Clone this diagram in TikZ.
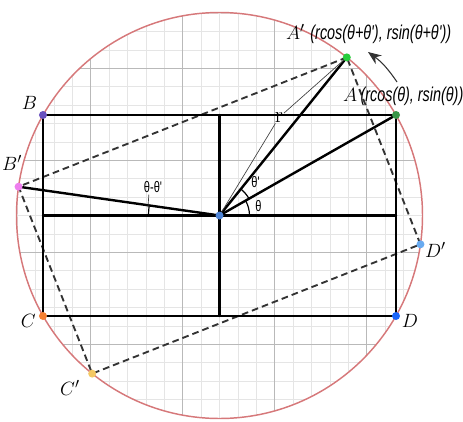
\documentclass[tikz,border=0pt]{standalone}
\usepackage{fontspec}
\usepackage{tikz}
\usetikzlibrary{arrows.meta,positioning}
\newfontfamily\condsans[FakeStretch=0.72]{Liberation Sans}
\definecolor{rim}{RGB}{214,120,122}
\definecolor{ptA}{RGB}{58,150,72}
\definecolor{ptAp}{RGB}{40,205,60}
\definecolor{ptB}{RGB}{104,80,190}
\definecolor{ptBp}{RGB}{238,126,238}
\definecolor{ptC}{RGB}{245,128,50}
\definecolor{ptCp}{RGB}{244,200,100}
\definecolor{ptD}{RGB}{26,100,250}
\definecolor{ptDp}{RGB}{104,170,240}
\definecolor{ptO}{RGB}{78,132,214}

\begin{document}
\begin{tikzpicture}[x=0.75pt, y=0.75pt,
  minorgrid/.style={line width=0.4pt, color=gray!20},
  majorgrid/.style={line width=0.5pt, color=gray!55},
  edge/.style={line width=1.8pt, line cap=round},
  dsh/.style={line width=1.4pt, color=gray!40!black, dash pattern=on 5pt off 3pt},
  thinl/.style={line width=0.5pt, color=black!75},
  arr/.style={-{Stealth[length=10pt, width=8pt]}, line width=0.8pt, color=black!80},
  dot/.style={circle, fill=#1, inner sep=0pt, minimum size=6pt},
  ptlbl/.style={font=\fontsize{15}{17}\selectfont, inner sep=1pt},
  anglbl/.style={font=\fontsize{11.5}{13}\selectfont\condsans, inner sep=1pt}
]
  \useasboundingbox (-219.5,-205.5) rectangle (243.5,215.5);
  % grid inside the circle
  \begin{scope}
    \clip (0,0) circle (203);
    \draw[minorgrid, step=13.8pt] (-230,-230) grid (230,230);
    \draw[majorgrid, shift={(-36.8,-36.8)}, step=69pt] (-200,-200) grid (300,300);
  \end{scope}
  \draw[rim, line width=1.1pt] (0,0) circle (203);

  \coordinate (O) at (0,0);
  \coordinate (A) at (176.5,100.5);
  \coordinate (B) at (-176.5,100.5);
  \coordinate (C) at (-176.5,-100.5);
  \coordinate (D) at (176.5,-100.5);
  \coordinate (Ap) at (51.16:203);
  \coordinate (Bp) at (171.84:203);
  \coordinate (Cp) at (231.16:203);
  \coordinate (Dp) at (351.84:203);
  \coordinate (mL) at (-176.5,0);
  \coordinate (mR) at (176.5,0);
  \coordinate (mT) at (0,100.5);
  \coordinate (mB) at (0,-100.5);

  % rotated square
  \draw[dsh] (Ap) -- (Bp) -- (Cp) -- (Dp) -- cycle;

  % rectangle and axes
  \draw[edge] (A) -- (B) -- (C) -- (D) -- cycle;
  \draw[edge] (mL) -- (mR);
  \draw[edge] (mT) -- (mB);
  \draw[edge] (O) -- (A);
  \draw[edge] (O) -- (Ap);
  \draw[edge] (O) -- (Bp);

  % angles
  \draw[line width=0.9pt] (30,0) arc[start angle=0, end angle=29.66, radius=30];
  \draw[line width=0.9pt] (29.66:34) arc[start angle=29.66, end angle=51.16, radius=34];
  \draw[line width=0.9pt] (171.84:71) arc[start angle=171.84, end angle=180, radius=71];
  \node[anglbl] (th) at (39,9.5) {θ};
  \node[anglbl] (thp) at (36,33.5) {θ'};
  \node[anglbl] (thd) at (-66.5,28) {θ-θ'};
  \coordinate (tk) at (173.5:72);
  \draw[thinl] (thd.240) -- (tk);

  % radius
  \node[ptlbl, font=\fontsize{17}{19}\selectfont, inner sep=0.5pt] (rr) at (59.5,98) {r};
  \draw[thinl] (O) -- (rr);
  \draw[thinl] (rr) -- (Ap);

  % rotation arrow
  \coordinate (arS) at (177.5,133.5);
  \coordinate (arE) at (148.5,163.5);
  \draw[arr] (arS) to[bend right=10] (arE);

  % points
  \node[dot=ptO] (dO) at (O) {};
  \node[dot=ptA] (dA) at (A) {};
  \node[dot=ptAp] (dAp) at (Ap) {};
  \node[dot=ptB] (dB) at (B) {};
  \node[dot=ptBp] (dBp) at (Bp) {};
  \node[dot=ptC] (dC) at (C) {};
  \node[dot=ptCp] (dCp) at (Cp) {};
  \node[dot=ptD] (dD) at (D) {};
  \node[dot=ptDp] (dDp) at (Dp) {};

  % labels
  \node[ptlbl, anchor=west] (lAp) at (65,181) {$A'$\;{\condsans\itshape(rcos(θ+θ'), rsin(θ+θ'))}};
  \node[ptlbl, anchor=west] (lA) at (122,119) {$A$\,{\condsans\itshape(rcos(θ), rsin(θ))}};
  \node[ptlbl, above left=1pt and 1pt of dB] (lB) {$B$};
  \node[ptlbl] (lBp) at (-207.5,52.5) {$B'$};
  \node[ptlbl, left=1pt of dC, yshift=-3.7pt] (lC) {$C$};
  \node[ptlbl] (lCp) at (-149.5,-172.5) {$C'$};
  \node[ptlbl, right=0pt of dD, yshift=-3.5pt] (lD) {$D$};
  \node[ptlbl] (lDp) at (216,-34) {$D'$};
\end{tikzpicture}
\end{document}
